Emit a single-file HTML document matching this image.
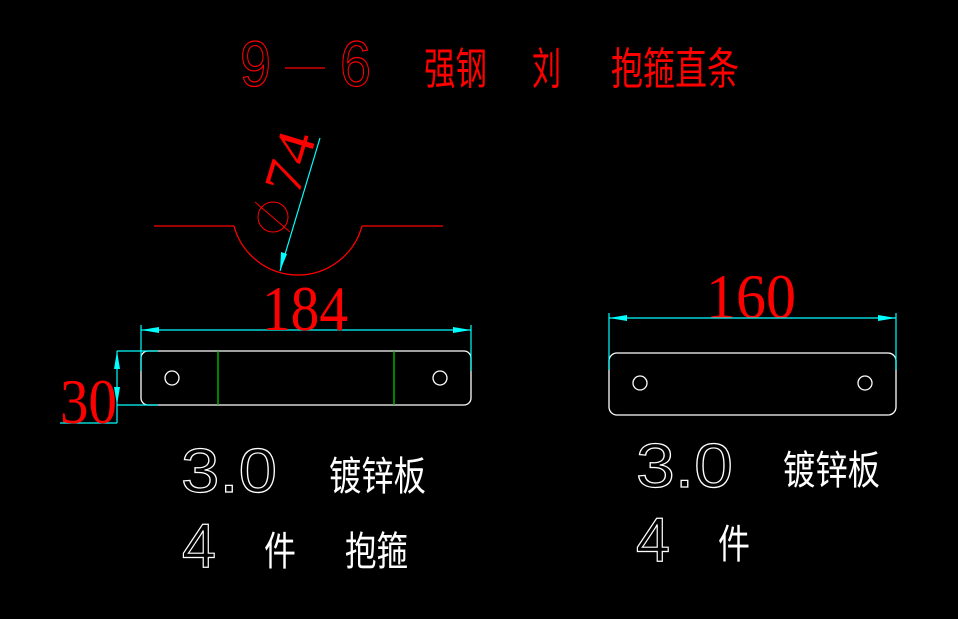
<!DOCTYPE html>
<html><head><meta charset="utf-8"><style>html,body{margin:0;padding:0;background:#000;}svg{display:block}</style></head>
<body>
<svg width="958" height="619" viewBox="0 0 958 619" xmlns="http://www.w3.org/2000/svg">
<rect width="958" height="619" fill="#000"/>
<!-- title -->
<g fill="none" stroke="#f00" stroke-width="1.2" font-family="Liberation Sans, sans-serif">
<text x="240" y="86" font-size="64" textLength="31" lengthAdjust="spacingAndGlyphs">9</text>
<line x1="285" y1="68" x2="325" y2="68"/>
<text x="340" y="86" font-size="64" textLength="31" lengthAdjust="spacingAndGlyphs">6</text>
</g>
<g fill="#f00" font-family="Liberation Sans, 'Noto Sans CJK SC', sans-serif" font-size="44">
<text x="424" y="84" textLength="63" lengthAdjust="spacingAndGlyphs">强钢</text>
<text x="532" y="84" textLength="29" lengthAdjust="spacingAndGlyphs">刘</text>
<text x="611" y="84" textLength="128" lengthAdjust="spacingAndGlyphs">抱箍直条</text>
</g>
<!-- red profile -->
<g fill="none" stroke="#f00" stroke-width="1.3">
<line x1="154" y1="226" x2="234" y2="226"/>
<path d="M234 226 A66.3 66.3 0 0 0 362 226"/>
<line x1="362" y1="226" x2="443" y2="226"/>
<circle cx="273" cy="217" r="15" stroke-width="1"/>
<line x1="255" y1="202" x2="290" y2="232" stroke-width="1"/>
</g>
<text transform="translate(298,197) rotate(-73)" fill="#f00" font-family="Liberation Serif, serif" font-size="54" textLength="62" lengthAdjust="spacingAndGlyphs">74</text>
<!-- leader -->
<line x1="280" y1="271" x2="320" y2="138" stroke="#0ff" stroke-width="1.2"/>
<polygon points="280,271 281,252 287,254" fill="#0ff"/>
<!-- left plate -->
<g fill="none" stroke="#fff" stroke-width="1.3">
<rect x="141" y="351" width="330" height="54" rx="7"/>
<circle cx="172" cy="378" r="7"/>
<circle cx="440" cy="378" r="7"/>
</g>
<g stroke="#0c0" stroke-width="1.3"><line x1="218" y1="351" x2="218" y2="405"/><line x1="394" y1="351" x2="394" y2="405"/></g>
<g stroke="#0ff" stroke-width="1.2" fill="none">
<line x1="141" y1="330" x2="471" y2="330"/>
<line x1="141" y1="325" x2="141" y2="371"/>
<line x1="471" y1="325" x2="471" y2="371"/>
<line x1="117" y1="351" x2="158" y2="351"/>
<line x1="117" y1="405" x2="158" y2="405"/>
<line x1="117" y1="351" x2="117" y2="423"/>
<line x1="60" y1="423" x2="117" y2="423"/>
</g>
<g fill="#0ff">
<polygon points="141,330 159,327 159,333"/>
<polygon points="471,330 453,327 453,333"/>
<polygon points="117,351 114,369 120,369"/>
<polygon points="117,405 114,387 120,387"/>
</g>
<g fill="#f00" font-family="Liberation Serif, serif" font-size="64">
<text x="262" y="330" textLength="86" lengthAdjust="spacingAndGlyphs">184</text>
<text x="60" y="423" textLength="57" lengthAdjust="spacingAndGlyphs">30</text>
<text x="706" y="318" textLength="90" lengthAdjust="spacingAndGlyphs">160</text>
</g>
<!-- right plate -->
<g fill="none" stroke="#fff" stroke-width="1.3">
<rect x="609" y="353" width="287" height="62" rx="8"/>
<circle cx="640" cy="383" r="7"/>
<circle cx="865" cy="383" r="7"/>
</g>
<g stroke="#0ff" stroke-width="1.2">
<line x1="609" y1="318" x2="896" y2="318"/>
<line x1="609" y1="313" x2="609" y2="370"/>
<line x1="896" y1="313" x2="896" y2="370"/>
</g>
<g fill="#0ff">
<polygon points="609,318 627,315 627,321"/>
<polygon points="896,318 878,315 878,321"/>
</g>
<!-- white labels -->
<g fill="none" stroke="#fff" stroke-width="1.2" font-family="Liberation Sans, sans-serif" font-size="62">
<text x="181" y="492" textLength="96" lengthAdjust="spacingAndGlyphs">3.0</text>
<text x="182" y="567" textLength="34" lengthAdjust="spacingAndGlyphs">4</text>
<text x="636" y="487" textLength="97" lengthAdjust="spacingAndGlyphs">3.0</text>
<text x="636" y="561" textLength="34" lengthAdjust="spacingAndGlyphs">4</text>
</g>
<g fill="#fff" font-family="Liberation Sans, 'Noto Sans CJK SC', sans-serif" font-size="40">
<text x="329" y="490" textLength="97" lengthAdjust="spacingAndGlyphs">镀锌板</text>
<text x="264" y="565" textLength="32" lengthAdjust="spacingAndGlyphs">件</text>
<text x="345" y="565" textLength="63" lengthAdjust="spacingAndGlyphs">抱箍</text>
<text x="718" y="558" textLength="32" lengthAdjust="spacingAndGlyphs">件</text>
<text x="783" y="484" textLength="97" lengthAdjust="spacingAndGlyphs">镀锌板</text>
</g>
</svg>
</body></html>
